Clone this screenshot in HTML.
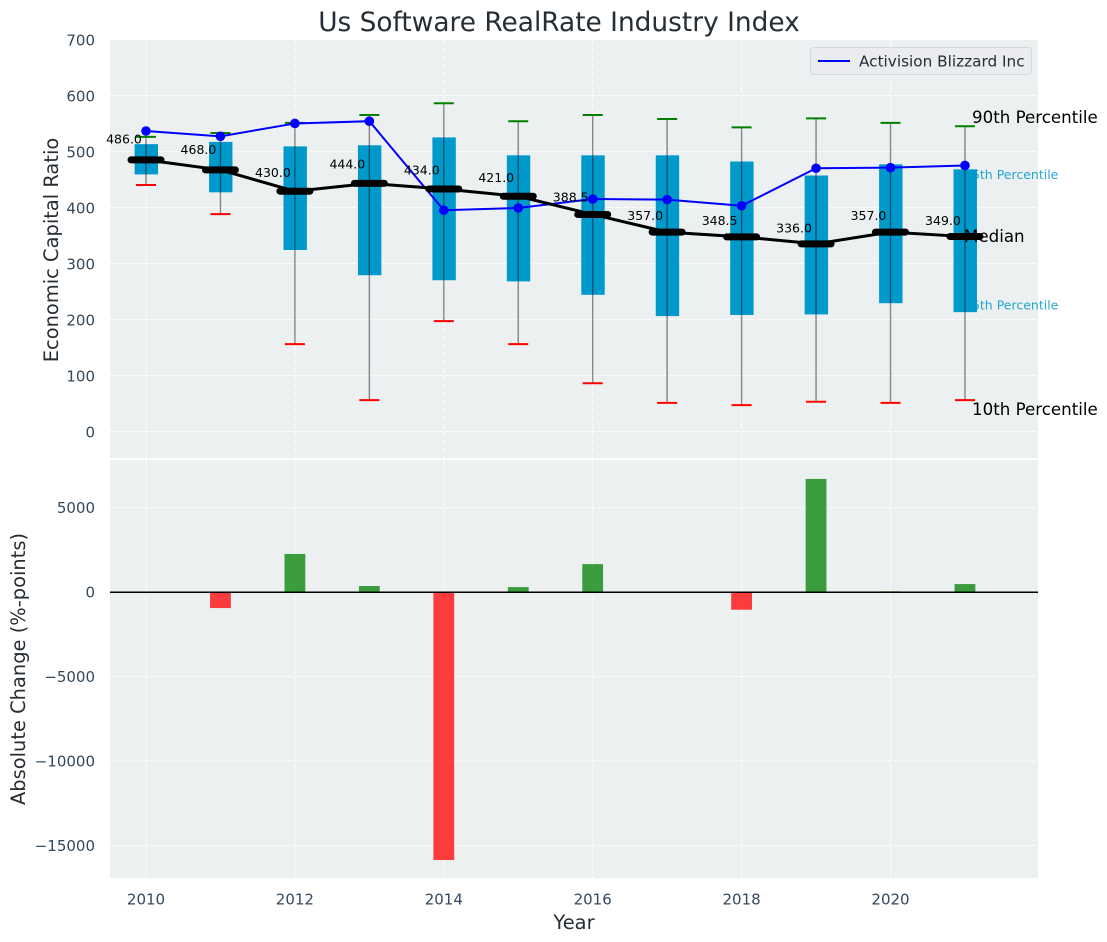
<!DOCTYPE html>
<html lang="en">
<head>
<meta charset="utf-8">
<title>Us Software RealRate Industry Index</title>
<style>
html,body{margin:0;padding:0;background:#fff;}
svg{display:block;font-family:"DejaVu Sans","Liberation Sans",sans-serif;}
</style>
</head>
<body>
<svg id="chart" xmlns="http://www.w3.org/2000/svg" width="1107" height="942" viewBox="0 0 1107 942">
  <rect x="110" y="40" width="928" height="418" fill="#ecf0f1"/>
  <rect x="110" y="460" width="928" height="418" fill="#ecf0f1"/>
  <g id="grid"></g>
  <text x="964" y="179" font-size="12.500" fill="#0099cc" opacity="0.85">75th Percentile</text>
  <text x="964" y="309.500" font-size="12.500" fill="#0099cc" opacity="0.85">25th Percentile</text>
  <g id="boxes"></g>
  <g id="whiskers"></g>
  <g id="company"></g>
  <text x="972" y="123" font-size="16.670" fill="#000">90th Percentile</text>
  <text x="964" y="242" font-size="16.670" fill="#000">Median</text>
  <text x="972" y="415" font-size="16.670" fill="#000">10th Percentile</text>
  <g id="medians"></g>
  <g id="medianLabels"></g>
  <g id="bars"></g>
  <line x1="110" x2="1038" y1="592.250" y2="592.250" stroke="#000" stroke-width="1.500"/>
  <g id="ticks" font-size="15" fill="#34495e"></g>
  <text x="559" y="31" font-size="26.400" fill="#262d35" text-anchor="middle">Us Software RealRate Industry Index</text>
  <text transform="translate(58,250) rotate(-90)" font-size="19.440" fill="#262d35" text-anchor="middle">Economic Capital Ratio</text>
  <text transform="translate(25,669) rotate(-90)" font-size="19.440" fill="#262d35" text-anchor="middle">Absolute Change (%-points)</text>
  <text x="574" y="929" font-size="19.440" fill="#262d35" text-anchor="middle">Year</text>
  <g>
    <rect x="810.500" y="47.500" width="221" height="27" rx="3" fill="#eaecf0" stroke="#d5d8dc" stroke-width="1"/>
    <line x1="818" x2="850" y1="61" y2="61" stroke="#0000ff" stroke-width="2"/>
    <text x="859" y="66.500" font-size="15.280" fill="#262d35">Activision Blizzard Inc</text>
  </g>
</svg>
<script>
const years = [2010, 2011, 2012, 2013, 2014, 2015, 2016, 2017, 2018, 2019, 2020, 2021];
const p90 = [527, 534, 552, 566, 587, 555, 566, 559, 544, 560, 552, 546];
const p75 = [514, 518, 510, 512, 526, 494, 494, 494, 483, 458, 478, 469];
const medianValues = [486, 468, 430, 444, 434, 421, 388.5, 357, 348.5, 336, 357, 349];
const p25 = [460, 428, 325, 280, 271, 269, 245, 207, 209, 210, 230, 214];
const p10 = [441, 389, 157, 57, 198, 157, 87, 52, 48, 54, 52, 57];
const companyValues = [537.5, 528, 551, 555, 396, 400, 416, 415, 404, 471, 472, 476];
const changeValues = [0, -950, 2250, 355, -15860, 290, 1650, 0, -1050, 6690, 40, 470];
const topTicks = [0, 100, 200, 300, 400, 500, 600, 700];
const bottomTicks = [5000, 0, -5000, -10000, -15000];
const xTicks = [2010, 2012, 2014, 2016, 2018, 2020];

const NS = 'http://www.w3.org/2000/svg';
const xS = function (year) { return 146 + (year - 2010) * 74.45; };
const yTop = function (v) { return 432 - v * 0.56; };
const yBottom = function (v) { return 592 - v * 0.0169; };

function mk(parentId, tag, attrs, text) {
  const el = document.createElementNS(NS, tag);
  Object.keys(attrs).forEach(function (k) { el.setAttribute(k, attrs[k]); });
  if (text !== undefined) el.textContent = text;
  document.getElementById(parentId).appendChild(el);
  return el;
}
function fmtTick(v) { return v < 0 ? '\u2212' + Math.abs(v) : String(v); }

const GRID = { stroke: '#ffffff', 'stroke-width': 1.1, 'stroke-dasharray': '5.5 2.5', opacity: 0.9 };

topTicks.forEach(function (t) {
  const gridLine = mk('grid', 'line', Object.assign({ x1: 110, x2: 1038, y1: yTop(t) - 0.5, y2: yTop(t) - 0.5 }, GRID));
  
  
  const label = mk('ticks', 'text', { x: 95, y: yTop(t) + 5.5, 'text-anchor': 'end' }, fmtTick(t));
  
  
});
bottomTicks.forEach(function (t) {
  const gridLine = mk('grid', 'line', Object.assign({ x1: 110, x2: 1038, y1: yBottom(t), y2: yBottom(t) }, GRID));
  
  
  const label = mk('ticks', 'text', { x: 95, y: yBottom(t) + 5.5, 'text-anchor': 'end' }, fmtTick(t));
  
  
});
xTicks.forEach(function (t) {
  const topLine = mk('grid', 'line', Object.assign({ x1: xS(t), x2: xS(t), y1: 40, y2: 458 }, GRID));
  
  
  const bottomLine = mk('grid', 'line', Object.assign({ x1: xS(t), x2: xS(t), y1: 460, y2: 878 }, GRID));
  
  
  const label = mk('ticks', 'text', { x: xS(t), y: 904.5, 'text-anchor': 'middle' }, String(t));
  
  
});

years.forEach(function (yr, i) {
  const x = xS(yr);
  const box = mk('boxes', 'rect', {
    x: x - 11.4, y: yTop(p75[i]), width: 23.4,
    height: yTop(p25[i]) - yTop(p75[i]), fill: '#0099cc'
  });
  
  

  const whisker = mk('whiskers', 'line', {
    x1: x, x2: x, y1: yTop(p90[i]), y2: yTop(p10[i]),
    stroke: '#000', 'stroke-opacity': 0.45, 'stroke-width': 1.4
  });
  
  

  const capHigh = mk('whiskers', 'line', {
    x1: x - 10, x2: x + 10, y1: yTop(p90[i]), y2: yTop(p90[i]),
    stroke: '#008000', 'stroke-width': 2
  });
  
  

  const capLow = mk('whiskers', 'line', {
    x1: x - 10, x2: x + 10, y1: yTop(p10[i]), y2: yTop(p10[i]),
    stroke: '#ff0000', 'stroke-width': 2
  });
  
  

  const dot = mk('company', 'circle', { cx: x, cy: yTop(companyValues[i]), r: 4.8, fill: '#0000ff' });
  
  

  const medianBar = mk('medians', 'line', {
    x1: x - 15, x2: x + 15, y1: yTop(medianValues[i]), y2: yTop(medianValues[i]),
    stroke: '#000', 'stroke-width': 7, 'stroke-linecap': 'round'
  });
  
  

  const valueLabel = mk('medianLabels', 'text', {
    x: x - 22, y: yTop(medianValues[i] * 1.06), 'font-size': 12.5, fill: '#000', 'text-anchor': 'middle'
  }, medianValues[i].toFixed(1));
  
  

  const v = changeValues[i];
  if (v !== 0) {
    const top = Math.min(yBottom(v), yBottom(0));
    const bar = mk('bars', 'rect', {
      x: x - 10.4, y: top, width: 20.8,
      height: Math.abs(yBottom(v) - yBottom(0)),
      fill: v > 0 ? '#008000' : '#ff0000', 'fill-opacity': 0.75
    });
    
    
  }
});

const companyLine = document.createElementNS(NS, 'polyline');
companyLine.setAttribute('points', years.map(function (yr, i) { return xS(yr) + ',' + yTop(companyValues[i]); }).join(' '));
companyLine.setAttribute('fill', 'none');
companyLine.setAttribute('stroke', '#0000ff');
companyLine.setAttribute('stroke-width', '2');


document.getElementById('company').insertBefore(companyLine, document.getElementById('company').firstChild);

const medianLine = document.createElementNS(NS, 'polyline');
medianLine.setAttribute('points', years.map(function (yr, i) { return xS(yr) + ',' + yTop(medianValues[i]); }).join(' '));
medianLine.setAttribute('fill', 'none');
medianLine.setAttribute('stroke', '#000');
medianLine.setAttribute('stroke-width', '3');


document.getElementById('medians').insertBefore(medianLine, document.getElementById('medians').firstChild);
</script>
</body>
</html>
